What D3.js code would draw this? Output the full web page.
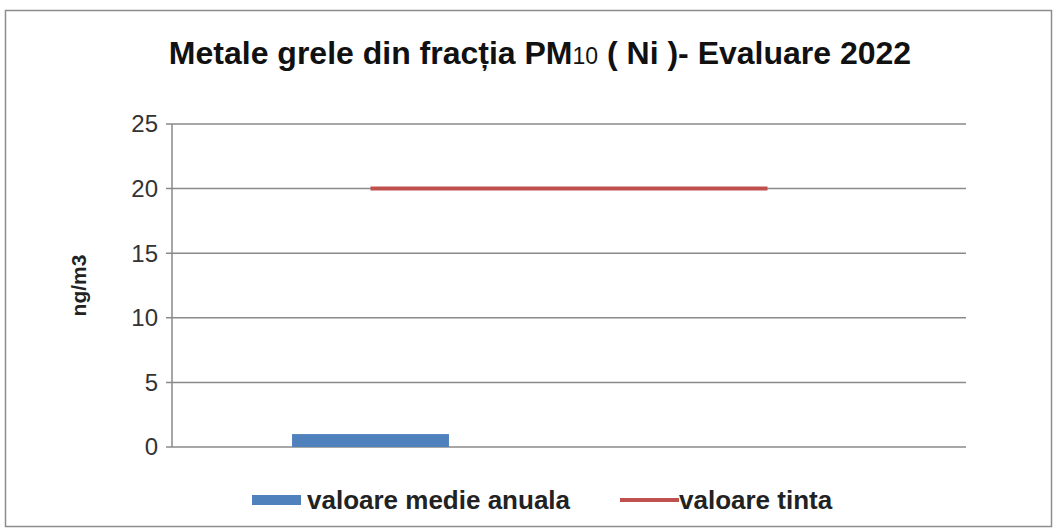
<!DOCTYPE html>
<html>
<head>
<meta charset="utf-8">
<script src="https://cdn.jsdelivr.net/npm/d3@7"></script>
<style>
  html, body { margin: 0; padding: 0; background: #fff; }
  svg { display: block; font-family: "Liberation Sans", Arial, sans-serif; }
</style>
</head>
<body>
<div id="chart"></div>
<script>
// data
const categories = ["A", "B"];
const annualMean = [1.0, null];      // valoare medie anuala
const targetValue = [20, 20];        // valoare tinta
const yTicks = [0, 5, 10, 15, 20, 25];
const seriesNames = ["valoare medie anuala", "valoare tinta"];

const W = 1056, H = 532;
const margin = { left: 172, right: 90, top: 124, bottom: 85 };

const svg = d3.select("#chart").append("svg").attr("width", W).attr("height", H);

// outer frame
svg.append("rect")
  .attr("x", 5.5).attr("y", 10.5).attr("width", 1046).attr("height", 516)
  .attr("fill", "#fff").attr("stroke", "#8c8c8c").attr("stroke-width", 1.5);

const x = d3.scaleBand().domain(categories).range([margin.left, W - margin.right]);
const y = d3.scaleLinear().domain([0, 25]).range([H - margin.bottom, margin.top]);

// title with smaller "10" for PM10
const title = svg.append("text")
  .attr("x", 540).attr("y", 64).attr("text-anchor", "middle")
  .attr("font-size", 32).attr("font-weight", "bold").attr("fill", "#111");
title.append("tspan").text("Metale grele din fracția PM");
title.append("tspan").attr("font-size", 23).attr("font-weight", "normal").text("10");
title.append("tspan").text(" ( Ni )- Evaluare 2022");

// grid + ticks
const grid = svg.append("g").attr("class", "grid");
grid.selectAll("line").data(yTicks).join("line")
  .attr("x1", margin.left - 6).attr("x2", W - margin.right)
  .attr("y1", (d) => y(d)).attr("y2", (d) => y(d))
  .attr("stroke", "#8a8a8a").attr("stroke-width", 1.5);

svg.append("line")
  .attr("x1", margin.left).attr("x2", margin.left)
  .attr("y1", y(25)).attr("y2", y(0))
  .attr("stroke", "#8a8a8a").attr("stroke-width", 1.5);

svg.append("g").selectAll("text").data(yTicks).join("text")
  .attr("x", margin.left - 14).attr("y", (d) => y(d)).attr("dy", "0.35em")
  .attr("text-anchor", "end").attr("font-size", 24).attr("fill", "#333")
  .text((d) => d);

svg.append("text")
  .attr("transform", `translate(86,${(y(0) + y(25)) / 2}) rotate(-90)`)
  .attr("text-anchor", "middle").attr("font-size", 21).attr("font-weight", "bold").attr("fill", "#222")
  .text("ng/m3");

// bars
const barW = x.bandwidth() / 2.53;
svg.append("g").selectAll("rect")
  .data(categories.map((c, i) => ({ c, v: annualMean[i] })).filter((d) => d.v != null))
  .join("rect")
  .attr("x", (d) => x(d.c) + x.bandwidth() / 2 - barW / 2)
  .attr("width", barW)
  .attr("y", (d) => y(d.v))
  .attr("height", (d) => y(0) - y(d.v))
  .attr("fill", "#4f81bd");

// target line
const line = d3.line()
  .x((d, i) => x(categories[i]) + x.bandwidth() / 2)
  .y((d) => y(d));
svg.append("path").datum(targetValue)
  .attr("d", line).attr("fill", "none")
  .attr("stroke", "#c0504d").attr("stroke-width", 4);

// legend
const lg = svg.append("g").attr("font-size", 26).attr("font-weight", "bold").attr("fill", "#222");
lg.append("rect").attr("x", 252).attr("y", 495).attr("width", 49).attr("height", 10).attr("fill", "#4f81bd");
lg.append("text").attr("x", 307).attr("y", 500).attr("dy", "0.35em").text(seriesNames[0]);
lg.append("line").attr("x1", 620).attr("x2", 679).attr("y1", 500).attr("y2", 500)
  .attr("stroke", "#c0504d").attr("stroke-width", 4);
lg.append("text").attr("x", 679).attr("y", 500).attr("dy", "0.35em").text(seriesNames[1]);
</script>
</body>
</html>
